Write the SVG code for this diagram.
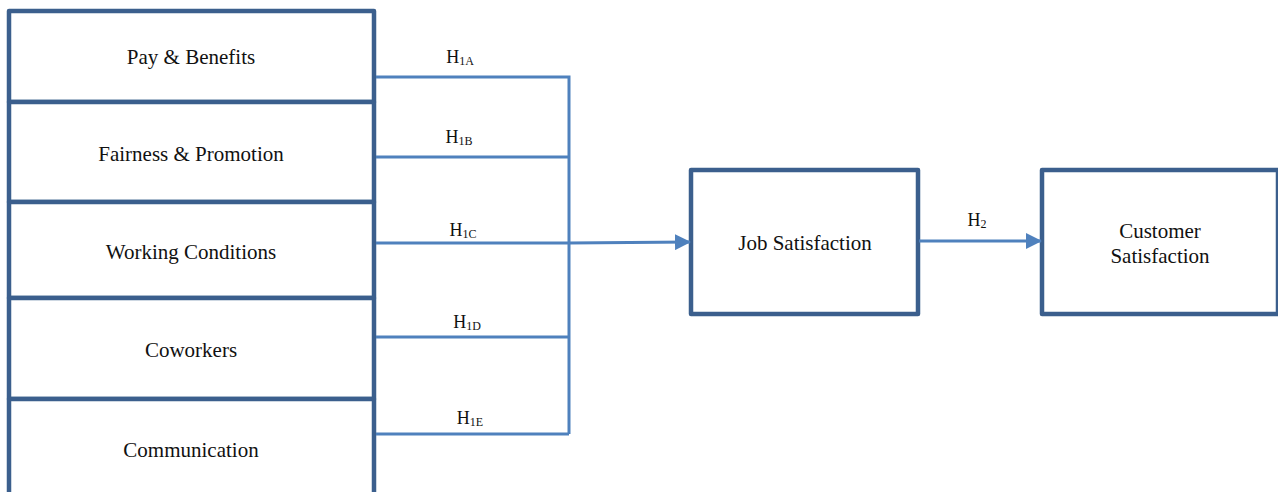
<svg xmlns="http://www.w3.org/2000/svg" width="1278" height="492" viewBox="0 0 1278 492">
<style>
.box{fill:#fff;stroke:#3b5f8d;stroke-width:4.5;stroke-linejoin:round}
.lbl{font-family:"Liberation Serif",serif;font-size:21px;fill:#111;text-anchor:middle}
.h{font-family:"Liberation Serif",serif;font-size:18px;fill:#111;text-anchor:middle}
.sub{font-size:12px}
.con{fill:none;stroke:#4f81bd;stroke-width:3}
</style>
<defs>
<marker id="arr" markerWidth="17" markerHeight="16" refX="15" refY="8" orient="auto" markerUnits="userSpaceOnUse">
<path d="M0,0 L16,8 L0,16 Z" fill="#4f81bd"/>
</marker>
</defs>
<g id="pay"><rect class="box" x="9" y="11" width="365" height="91"/><text class="lbl" x="191" y="64">Pay &amp; Benefits</text></g>
<g id="fairness"><rect class="box" x="9" y="102" width="365" height="100"/><text class="lbl" x="191" y="161">Fairness &amp; Promotion</text></g>
<g id="working"><rect class="box" x="9" y="202" width="365" height="96"/><text class="lbl" x="191" y="259">Working Conditions</text></g>
<g id="coworkers"><rect class="box" x="9" y="298" width="365" height="101"/><text class="lbl" x="191" y="357">Coworkers</text></g>
<g id="communication"><rect class="box" x="9" y="399" width="365" height="110"/><text class="lbl" x="191" y="457">Communication</text></g>
<g id="job"><rect class="box" x="691" y="170" width="227" height="144"/><text class="lbl" x="805" y="250">Job Satisfaction</text></g>
<g id="customer"><rect class="box" x="1042" y="170" width="236" height="144"/><text class="lbl" x="1160" y="238">Customer</text><text class="lbl" x="1160" y="263">Satisfaction</text></g>
<g id="connectors">
<path class="con" d="M376,77 H569 V434"/>
<path class="con" d="M376,157 H569"/>
<path class="con" d="M376,243 H569"/>
<path class="con" d="M376,337 H569"/>
<path class="con" d="M376,434 H569"/>
<path class="con" d="M569,243 L690,242" marker-end="url(#arr)" stroke-width="3.5"/>
<path class="con" d="M919,241 H1041" marker-end="url(#arr)" stroke-width="3.5"/>
<text class="h" x="460" y="63">H<tspan class="sub" dy="2">1A</tspan></text>
<text class="h" x="459" y="143">H<tspan class="sub" dy="2">1B</tspan></text>
<text class="h" x="463" y="236">H<tspan class="sub" dy="2">1C</tspan></text>
<text class="h" x="467" y="328">H<tspan class="sub" dy="2">1D</tspan></text>
<text class="h" x="470" y="424">H<tspan class="sub" dy="2">1E</tspan></text>
<text class="h" x="977" y="226">H<tspan class="sub" dy="2">2</tspan></text>
</g>
</svg>
